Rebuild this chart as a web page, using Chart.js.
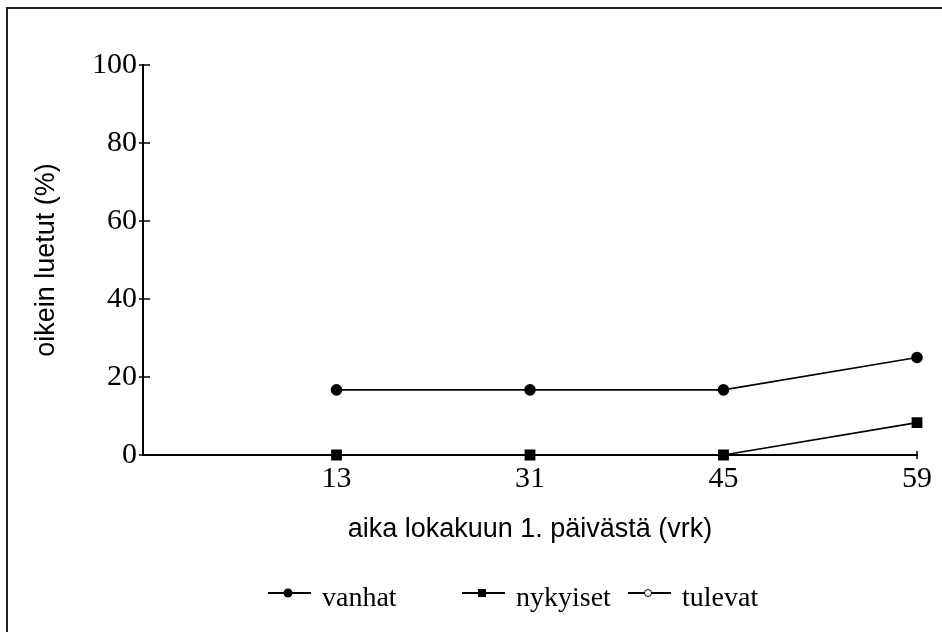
<!DOCTYPE html>
<html>
<head>
<meta charset="utf-8">
<script src="https://cdn.jsdelivr.net/npm/chart.js@4"></script>
<style>
  html, body { margin: 0; padding: 0; background: #fff; }
  canvas { display: block; }
</style>
</head>
<body>
<canvas id="chart" width="942" height="632"></canvas>
<script>
// Data (first slot is the empty start of the axis)
const days = ["", "13", "31", "45", "59"];
const vanhat = [null, 16.7, 16.7, 16.7, 25];
const nykyiset = [null, 0, 0, 0, 8.3];
const tulevat = [null, null, null, null, null];
const yTicks = [0, 20, 40, 60, 80, 100];

const serif = "'Liberation Serif', 'Times New Roman', serif";
const sans = "'Liberation Sans', Arial, sans-serif";

// Frame, tick marks and legend drawn around the chart
const extras = {
  id: "extras",
  beforeDraw(chart) {
    const ctx = chart.ctx;
    ctx.save();
    ctx.fillStyle = "#fff";
    ctx.fillRect(0, 0, chart.width, chart.height);
    ctx.strokeStyle = "#222";
    ctx.lineWidth = 2;
    ctx.beginPath();
    ctx.moveTo(chart.width, 8);
    ctx.lineTo(7, 8);
    ctx.lineTo(7, chart.height);
    ctx.stroke();
    ctx.restore();
  },
  afterDraw(chart) {
    const ctx = chart.ctx;
    const x = chart.scales.x;
    const y = chart.scales.y;
    ctx.save();
    ctx.strokeStyle = "#000";
    ctx.lineWidth = 1.5;
    // y ticks cross the axis
    yTicks.forEach(v => {
      const py = y.getPixelForValue(v);
      ctx.beginPath();
      ctx.moveTo(x.left - 4, py);
      ctx.lineTo(x.left + 7, py);
      ctx.stroke();
    });
    // x ticks
    days.forEach((d, i) => {
      if (!d) return;
      const px = x.getPixelForValue(i);
      ctx.beginPath();
      ctx.moveTo(px, y.bottom - 4);
      ctx.lineTo(px, y.bottom + 4);
      ctx.stroke();
    });

    // legend
    const items = [
      { ds: chart.data.datasets[0], x: 268 },
      { ds: chart.data.datasets[1], x: 462 },
      { ds: chart.data.datasets[2], x: 628 }
    ];
    const ly = 593;
    ctx.font = "28px " + serif;
    ctx.textBaseline = "alphabetic";
    ctx.fillStyle = "#000";
    items.forEach(it => {
      ctx.lineWidth = 2;
      ctx.beginPath();
      ctx.moveTo(it.x, ly);
      ctx.lineTo(it.x + 43, ly);
      ctx.stroke();
      const cx = it.x + 20;
      if (it.ds.pointStyle === "rect") {
        ctx.fillRect(cx - 4, ly - 4, 8, 8);
      } else if (it.ds.pointBackgroundColor === "#fff") {
        ctx.beginPath();
        ctx.arc(cx, ly, 3.5, 0, Math.PI * 2);
        ctx.fillStyle = "#fff";
        ctx.fill();
        ctx.lineWidth = 1;
        ctx.stroke();
        ctx.fillStyle = "#000";
      } else {
        ctx.beginPath();
        ctx.arc(cx, ly, 4.5, 0, Math.PI * 2);
        ctx.fill();
      }
      ctx.fillText(it.ds.label, it.x + 54, 606);
    });
    ctx.restore();
  }
};

new Chart(document.getElementById("chart"), {
  type: "line",
  data: {
    labels: days,
    datasets: [
      {
        label: "vanhat",
        data: vanhat,
        borderColor: "#000",
        borderWidth: 1.6,
        pointStyle: "circle",
        pointRadius: 5,
        pointBackgroundColor: "#000",
        pointBorderColor: "#000",
        clip: false,
        tension: 0
      },
      {
        label: "nykyiset",
        data: nykyiset,
        borderColor: "#000",
        borderWidth: 1.6,
        pointStyle: "rect",
        pointRadius: 6.5,
        pointBackgroundColor: "#000",
        pointBorderColor: "#000",
        clip: false,
        tension: 0
      },
      {
        label: "tulevat",
        data: tulevat,
        borderColor: "#000",
        borderWidth: 1.6,
        pointStyle: "circle",
        pointRadius: 5,
        pointBackgroundColor: "#fff",
        pointBorderColor: "#000",
        clip: false,
        tension: 0
      }
    ]
  },
  options: {
    responsive: false,
    animation: false,
    events: [],
    layout: { padding: { top: 65, right: 25, left: 0, bottom: 0 } },
    plugins: {
      legend: { display: false },
      tooltip: { enabled: false }
    },
    scales: {
      x: {
        type: "category",
        offset: false,
        grid: { display: false, drawTicks: false },
        border: { display: true, color: "#000", width: 2 },
        ticks: {
          color: "#000",
          font: { family: serif, size: 30 },
          padding: 6,
          maxRotation: 0,
          autoSkip: false
        },
        title: {
          display: true,
          text: "aika lokakuun 1. päivästä (vrk)",
          color: "#000",
          font: { family: sans, size: 27 },
          padding: { top: 0, bottom: 86 }
        },
        afterFit(scale) { scale.height = 177; }
      },
      y: {
        min: 0,
        max: 100,
        grid: { display: false, drawTicks: false },
        border: { display: true, color: "#000", width: 2 },
        afterBuildTicks(scale) { scale.ticks = yTicks.map(v => ({ value: v })); },
        ticks: {
          color: "#000",
          font: { family: serif, size: 30 },
          padding: 6
        },
        title: {
          display: true,
          text: "oikein luetut (%)",
          color: "#000",
          font: { family: sans, size: 27 },
          padding: { top: 30, bottom: 0 }
        },
        afterFit(scale) { scale.width = 143; }
      }
    }
  },
  plugins: [extras]
});
</script>
</body>
</html>
